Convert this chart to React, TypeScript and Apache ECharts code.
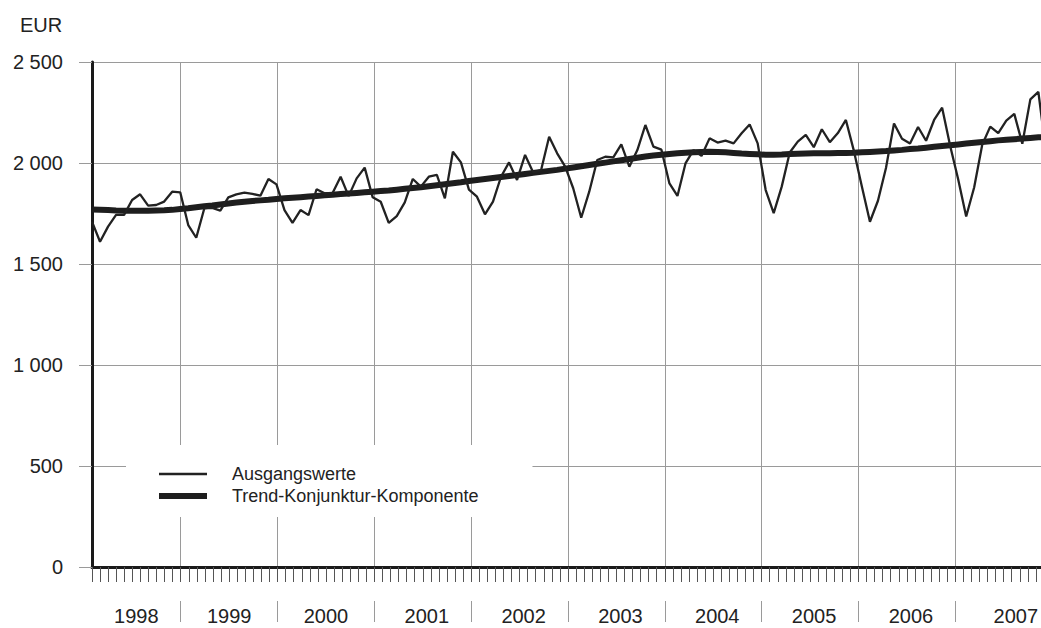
import React, { useEffect, useRef } from 'react';
import * as echarts from 'echarts';

// Month categories: Feb 1998 .. Dec 2007 (tick / grid axis)
const months: string[] = [];
for (let k = 0; k < 119; k++) {
  const y = 1998 + Math.floor((k + 1) / 12);
  const m = ((k + 1) % 12) + 1;
  months.push(`${y}-${String(m).padStart(2, '0')}`);
}

const years = ['1998', '1999', '2000', '2001', '2002', '2003', '2004', '2005', '2006', '2007'];
// position of each year label, in months from the axis start
const yearLabelAt = [5.5, 17, 29, 41.5, 53.5, 65.5, 77.5, 89.5, 101.5, 114.5];

const yTicks = [0, 500, 1000, 1500, 2000, 2500];

const ausgangswerte = [
  1710, 1610, 1685, 1743, 1743, 1817, 1845, 1789, 1792, 1809, 1858, 1855,
  1693, 1630, 1775, 1778, 1764, 1830, 1845, 1853, 1847, 1838, 1921, 1894,
  1767, 1704, 1767, 1742, 1870, 1850, 1852, 1932, 1836, 1924, 1977, 1830,
  1808, 1704, 1737, 1805, 1921, 1883, 1932, 1941, 1825, 2056, 2003, 1868,
  1833, 1746, 1809, 1932, 2003, 1916, 2040, 1954, 1965, 2130, 2048, 1982,
  1875, 1729, 1858, 2015, 2031, 2028, 2092, 1982, 2064, 2188, 2081, 2066,
  1899, 1837, 1998, 2064, 2035, 2122, 2101, 2111, 2097, 2147, 2191, 2097,
  1866, 1752, 1883, 2052, 2106, 2139, 2078, 2167, 2103, 2148, 2213, 2060,
  1882, 1709, 1813, 1975, 2196, 2120, 2097, 2178, 2110, 2213, 2274, 2085,
  1920, 1735, 1880, 2090, 2180, 2148, 2210, 2243, 2095, 2315, 2352, 2040,
];

const trend = [
  1770, 1769, 1767, 1765, 1764, 1764, 1764, 1764, 1765, 1766, 1768, 1772,
  1776, 1781, 1786, 1790, 1795, 1800, 1804, 1808, 1812, 1815, 1818, 1822,
  1825, 1828, 1831, 1834, 1837, 1840, 1843, 1846, 1849, 1852, 1855, 1858,
  1861, 1864, 1868, 1872, 1876, 1880, 1885, 1890, 1895, 1900, 1905, 1911,
  1916, 1921, 1926, 1931, 1936, 1941, 1946, 1951, 1956, 1961, 1966, 1972,
  1978, 1984, 1990, 1996, 2002, 2008, 2014, 2020, 2026, 2032, 2037, 2041,
  2045, 2048, 2051, 2053, 2055, 2056, 2055, 2053, 2050, 2047, 2045, 2043,
  2041, 2041, 2042, 2044, 2046, 2047, 2048, 2048, 2048, 2049, 2050, 2051,
  2053, 2055, 2057, 2059, 2062, 2065, 2069, 2072, 2076, 2080, 2084, 2088,
  2092, 2096, 2100, 2104, 2108, 2112, 2115, 2118, 2121, 2124, 2127, 2130,
];

const FONT = '"Liberation Sans", Arial, sans-serif';
const INK = '#222';
const GRID = '#9a9a9a';

function fmtThousands(v: number): string {
  if (v >= 1000) {
    return `${Math.floor(v / 1000)} ${String(v % 1000).padStart(3, '0')}`;
  }
  return String(v);
}

export default function App() {
  const ref = useRef<HTMLDivElement>(null);

  useEffect(() => {
    if (!ref.current) return;
    const chart = echarts.init(ref.current, undefined, { renderer: 'svg' });
    const plotWidth = 952;
    const dataMax = plotWidth / 8.02;

    chart.setOption({
      animation: false,
      textStyle: { fontFamily: FONT },
      title: {
        text: 'EUR',
        left: 20,
        top: 15,
        padding: 0,
        textStyle: { fontSize: 20, fontWeight: 'normal', color: INK, fontFamily: FONT },
      },
      legend: {
        orient: 'vertical',
        left: 126,
        top: 445,
        padding: [19, 54, 11, 33],
        itemGap: 2,
        itemWidth: 48,
        itemHeight: 14,
        backgroundColor: '#fff',
        selectedMode: false,
        symbolKeepAspect: true,
        textStyle: { fontSize: 18, color: INK, lineHeight: 20, padding: [0, 0, 0, 20], fontFamily: FONT },
        data: [
          { name: 'Ausgangswerte', icon: 'path://M0,0H48V2.3H0Z', itemStyle: { color: INK } },
          { name: 'Trend-Konjunktur-Komponente', icon: 'path://M0,0H48V6H0Z', itemStyle: { color: '#1e1e1e' } },
        ],
      },
      grid: { left: 92, top: 62, width: plotWidth, height: 505 },
      xAxis: [
        {
          type: 'category',
          data: months,
          boundaryGap: false,
          position: 'bottom',
          axisLine: { onZero: false, lineStyle: { color: '#1a1a1a', width: 3 } },
          axisTick: { show: true, interval: 0, length: 15, lineStyle: { color: '#555', width: 1 } },
          axisLabel: { show: false },
          splitLine: {
            show: true,
            interval: (_i: number, v: string) => v.endsWith('-01'),
            lineStyle: { color: GRID, width: 1 },
          },
        },
        {
          type: 'value',
          min: 0,
          max: dataMax,
          show: false,
          position: 'top',
          axisLine: { onZero: false },
          splitLine: { show: false },
        },
        {
          type: 'value',
          min: 0,
          max: months.length - 1,
          interval: 0.5,
          position: 'bottom',
          axisLine: { show: false, onZero: false },
          axisTick: { show: false },
          splitLine: { show: false },
          axisLabel: {
            margin: 39,
            fontSize: 20,
            color: INK,
            fontFamily: FONT,
            showMinLabel: true,
            showMaxLabel: true,
            formatter: (v: number) => {
              const k = yearLabelAt.findIndex((p) => Math.abs(p - v) < 0.01);
              return k >= 0 ? years[k] : '';
            },
          },
        },
        {
          type: 'category',
          data: months,
          boundaryGap: false,
          position: 'bottom',
          offset: 34,
          axisLine: { show: false, onZero: false },
          axisTick: {
            show: true,
            interval: (_i: number, v: string) => v.endsWith('-01'),
            length: 21,
            lineStyle: { color: GRID, width: 1 },
          },
          axisLabel: { show: false },
          splitLine: { show: false },
        },
      ],
      yAxis: {
        type: 'value',
        min: yTicks[0],
        max: yTicks[yTicks.length - 1],
        interval: 500,
        axisLine: { show: true, lineStyle: { color: '#1a1a1a', width: 3 } },
        axisTick: { show: true, length: 13, lineStyle: { color: GRID, width: 1 } },
        axisLabel: {
          margin: 29,
          fontSize: 20,
          color: INK,
          fontFamily: FONT,
          formatter: (v: number) => fmtThousands(v),
        },
        splitLine: { show: true, lineStyle: { color: GRID, width: 1 } },
      },
      series: [
        {
          type: 'line',
          name: 'Trend-Konjunktur-Komponente',
          xAxisIndex: 1,
          data: trend.map((v, i) => [i, v]),
          symbol: 'none',
          lineStyle: { color: '#1e1e1e', width: 6 },
          itemStyle: { color: '#1e1e1e' },
          z: 2,
        },
        {
          type: 'line',
          name: 'Ausgangswerte',
          xAxisIndex: 1,
          data: ausgangswerte.map((v, i) => [i, v]),
          symbol: 'none',
          lineStyle: { color: INK, width: 2.3 },
          itemStyle: { color: INK },
          z: 3,
        },
      ],
    });

    return () => chart.dispose();
  }, []);

  return (
    <div
      style={{ position: 'absolute', left: 0, top: 0, width: 1041, height: 628, overflow: 'hidden', background: '#fff' }}
    >
      <div ref={ref} style={{ width: 1060, height: 628 }} />
    </div>
  );
}
